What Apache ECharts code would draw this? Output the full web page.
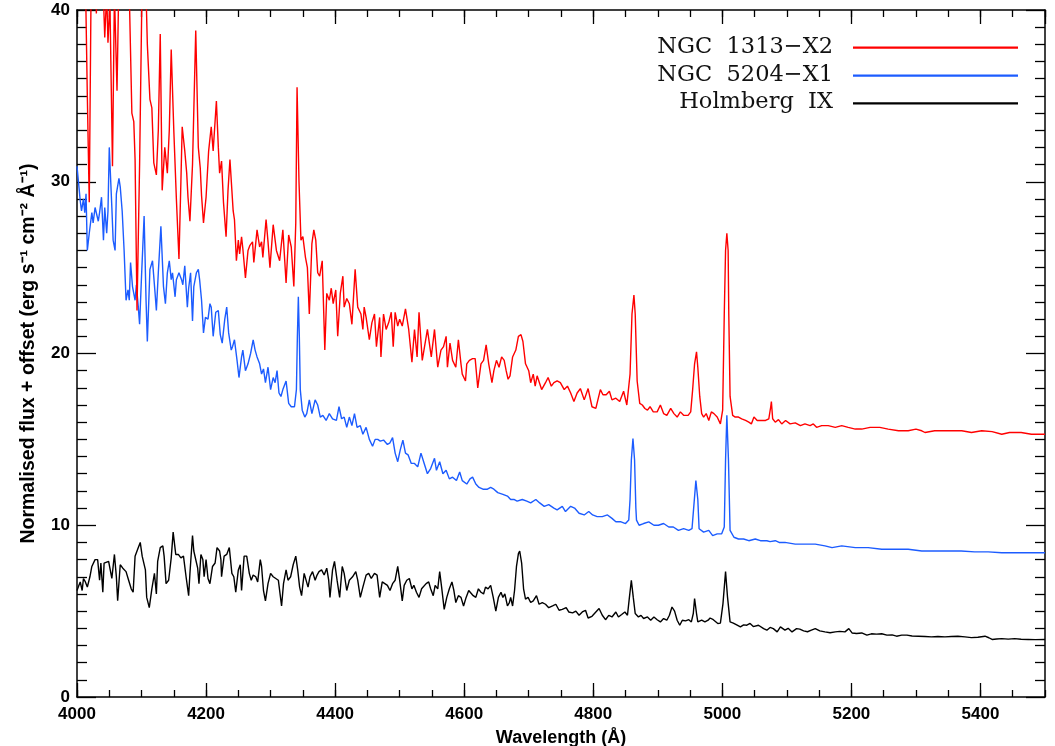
<!DOCTYPE html>
<html>
<head>
<meta charset="utf-8">
<title>Optical spectra</title>
<script src="https://cdn.jsdelivr.net/npm/echarts@6/dist/echarts.min.js"></script>
<style>
  html, body { margin: 0; padding: 0; background: #ffffff; }
  #chart { width: 1055px; height: 746px; }
</style>
</head>
<body>
<div id="chart"></div>
<script>
// Spectra as [wavelength (Å), normalised flux + offset]
const ngc1313x2 = [
  [4000,46],[4008,45],[4013,42],[4016,35],[4019,28.8],[4022,42],[4026,45],[4030,39.8],[4033,44],[4039,43],
  [4043,38.4],[4046,41],[4048,38.1],[4051,40.5],[4055,30.9],[4058,41],[4062,35.3],[4065,42],[4070,45],[4076,44],
  [4081,41],[4085,34],[4088,33.5],[4090,31.3],[4093,22.5],[4097,31],[4101,42],[4105,44],[4109,38],[4113,34.8],
  [4116,34.3],[4119,31.1],[4123,30.4],[4126,33],[4129,38.6],[4132,29.5],[4136,32],[4140,30.5],[4143,33],[4146,37.7],
  [4150,33],[4154,29],[4158,25.5],[4161,30],[4163,33.2],[4167,31.8],[4170,30.5],[4172,29.1],[4175,27.7],[4179,31],
  [4184,38.8],[4188,32],[4191,30.8],[4193,29.2],[4196,27.6],[4200,29.1],[4204,31.8],[4208,33.2],[4211,31.8],[4216,34.7],
  [4219,32],[4221,30.5],[4224,31.2],[4227,28.8],[4231,26.8],[4234,29.5],[4237,31.3],[4242,28.3],[4244,27.8],[4247,25.4],
  [4250,26.6],[4252,25.8],[4255,26.8],[4257,26.1],[4261,24.4],[4265,26],[4268,26.3],[4272,26.5],[4274,25.3],[4279,27.2],
  [4283,26.2],[4286,26.5],[4288,25.6],[4293,27.8],[4296,26.5],[4299,25],[4304,27.5],[4309,26],[4314,25.4],[4319,27.2],
  [4324,24.1],[4328,26.9],[4332,26.2],[4336,23.9],[4339,27.6],[4341,35.5],[4344,30],[4347,26.6],[4350,26.8],[4354,25.6],
  [4357,25],[4360,22.3],[4364,26.4],[4367,27.2],[4370,26.6],[4373,24.7],[4376,24.5],[4380,25.4],[4384,20.2],[4387,23.5],
  [4391,23.1],[4394,23.8],[4397,22.9],[4401,23.7],[4404,21],[4408,23.5],[4412,24.5],[4414,22.7],[4418,23.2],[4422,22.9],
  [4426,21.7],[4431,24.9],[4435,22.7],[4440,22.3],[4443,21.4],[4445,22.7],[4448,22.1],[4453,20.8],[4457,21.8],[4461,22.3],
  [4464,20.4],[4469,22.1],[4471,19.8],[4475,22.3],[4479,21.4],[4483,21.8],[4487,22.4],[4490,20.4],[4493,22.4],[4497,21.6],
  [4500,22],[4504,21.6],[4509,22.6],[4514,21.4],[4519,19.5],[4523,21.4],[4527,19.8],[4530,22.4],[4535,19.6],[4538,19.7],
  [4543,21.4],[4549,19.8],[4554,21.4],[4559,19.2],[4564,20.2],[4568,20.4],[4572,21],[4574,19.2],[4578,20.6],[4582,19.6],
  [4587,19.2],[4591,20.8],[4595,19.4],[4597,18.8],[4602,18.4],[4604,19.4],[4608,19.6],[4613,19.7],[4617,19.7],[4621,18],
  [4626,19.4],[4630,19.6],[4634,20.5],[4638,19.4],[4643,18.3],[4646,19],[4650,19.6],[4654,19.2],[4658,19.8],[4662,19.6],
  [4665,19],[4668,18.5],[4671,18.7],[4675,19.8],[4680,20.2],[4684,21],[4688,21.1],[4691,20.7],[4695,19.4],[4700,19],
  [4703,18.3],[4707,18.8],[4710,18.1],[4713,18.7],[4716,18.6],[4720,17.9],[4726,18.3],[4730,18.6],[4735,18.1],[4739,18.3],
  [4744,18.4],[4749,18.3],[4755,17.9],[4760,18.1],[4765,17.7],[4770,17.2],[4775,17.7],[4780,17.96],[4786,17.3],[4792,17.96],
  [4798,16.9],[4804,16.8],[4811,17.9],[4815,17.6],[4820,17.6],[4825,17.8],[4829,17.3],[4835,17.4],[4841,17.2],[4847,17.8],
  [4852,17],[4857,18.8],[4860,22.3],[4863,23.4],[4865,22.3],[4868,18.4],[4872,17.1],[4876,17],[4880,16.8],[4884,16.7],
  [4888,16.9],[4893,16.6],[4899,16.6],[4904,17],[4909,16.5],[4914,16.4],[4920,16.8],[4925,16.5],[4930,16.3],[4935,16.6],
  [4940,16.4],[4947,16.4],[4951,16.6],[4954,17.9],[4957,19.4],[4960,20.1],[4962,19.2],[4965,17.5],[4968,16.5],[4971,16.3],
  [4975,16.5],[4979,16.1],[4983,16.6],[4987,16.5],[4992,16.3],[4997,15.9],[5000.5,16.7],[5003,22.3],[5005,26],[5007,27],
  [5009,26],[5010,22.3],[5012,17.5],[5016,16.4],[5020,16.3],[5025,16.3],[5030,16.2],[5036,16.1],[5041,16],[5045,15.9],
  [5049,16.3],[5054,16.1],[5059,16.1],[5067,16.1],[5072,16.2],[5075,16.9],[5076,17.2],[5078,16.2],[5082,16],[5087,16.15],
  [5092,15.9],[5098,16.1],[5105,15.9],[5113,15.96],[5121,15.8],[5128,15.9],[5136,15.8],[5141,15.9],[5146,15.7],[5154,15.8],
  [5164,15.8],[5175,15.7],[5185,15.8],[5195,15.7],[5206,15.6],[5216,15.6],[5229,15.7],[5244,15.7],[5257,15.6],[5273,15.5],
  [5288,15.5],[5300,15.6],[5309,15.5],[5314,15.4],[5329,15.5],[5350,15.5],[5371,15.5],[5386,15.4],[5402,15.5],[5418,15.45],
  [5433,15.3],[5445,15.4],[5463,15.4],[5479,15.3],[5500,15.3]
];

const ngc5204x1 = [
  [4000,30.9],[4003,29.7],[4005,28.9],[4007,28.3],[4010,29],[4012,28.2],[4014,29.3],[4016,26],[4019,27],[4023,28.2],
  [4025,27.6],[4028,28.5],[4031,28.5],[4033,27.7],[4035,28.2],[4038,29.1],[4041,26.6],[4043,28.5],[4046,27],[4048,28.3],
  [4050,32],[4054,28.5],[4056,26.6],[4059,26],[4061,29.3],[4065,30.2],[4067,29.7],[4070,28.3],[4073,26],[4076,23.1],
  [4079,23.7],[4081,23.1],[4083,25.3],[4086,23.9],[4090,23.1],[4092,24],[4095,22.7],[4097,21.7],[4100,24.5],[4104,28],
  [4107,23.1],[4109,20.7],[4113,24.9],[4117,25.4],[4121,23.5],[4123,22.5],[4126,24.7],[4130,27.4],[4134,23.9],[4137,22.9],
  [4140,24.7],[4143,25.4],[4146,24.3],[4148,24.7],[4152,23.3],[4154,24.3],[4158,24.7],[4162,24.3],[4164,24],[4167,25.1],
  [4171,22.7],[4173,23.8],[4176,24.7],[4179,21.9],[4181,23.9],[4185,24.7],[4188,24.9],[4190,24.3],[4193,23.1],[4196,21.2],
  [4199,22.1],[4203,22],[4206,22.9],[4208,22.7],[4211,21],[4215,22.4],[4219,22.5],[4222,21.1],[4225,20.6],[4229,22],
  [4232,22.7],[4235,21.2],[4239,20.2],[4241,20.4],[4244,20.8],[4248,19.6],[4251,18.6],[4255,19.8],[4257,20.2],[4261,19],
  [4265,19.4],[4269,20],[4273,20.8],[4276,20.2],[4279,19.8],[4283,19.4],[4286,18.8],[4289,19.1],[4292,18.3],[4296,19.2],
  [4300,17.9],[4304,18.6],[4307,18.3],[4310,19],[4313,17.7],[4316,17.5],[4319,17.9],[4324,18.4],[4328,17.1],[4332,16.9],
  [4337,16.9],[4340,17.9],[4341.5,21],[4343,23.3],[4344.5,21],[4346,17.9],[4349,16.7],[4353,16.3],[4356,16.5],[4360,17.3],
  [4364,16.5],[4369,17.3],[4373,17],[4377,16.3],[4381,16.4],[4386,16.1],[4391,16.5],[4396,16.2],[4402,16.1],[4406,16.9],
  [4410,16.2],[4414,16.3],[4418,15.7],[4422,16.3],[4426,15.8],[4430,16.5],[4434,15.7],[4439,15.8],[4443,15.3],[4448,15.7],
  [4453,15],[4458,14.6],[4462,15],[4466,15],[4470,14.9],[4475,14.96],[4481,14.7],[4485,14.8],[4489,15.1],[4493,14.2],
  [4497,13.7],[4501,14.4],[4505,14.96],[4509,14.2],[4513,14.1],[4518,13.6],[4523,13.6],[4528,13.4],[4533,14.2],[4538,13.6],
  [4543,13],[4548,13.3],[4554,13.9],[4557,13.2],[4562,13.7],[4567,13],[4572,13.2],[4577,12.7],[4582,12.8],[4588,12.6],
  [4593,13.1],[4597,12.6],[4604,12.4],[4609,12.7],[4613,12.8],[4618,12.4],[4623,12.2],[4629,12.1],[4636,12.1],[4641,12.2],
  [4646,12.1],[4652,11.9],[4660,11.8],[4667,11.7],[4672,11.5],[4677,11.5],[4682,11.4],[4690,11.5],[4697,11.4],[4703,11.3],
  [4711,11.5],[4717,11.3],[4724,11.1],[4731,11.2],[4739,11],[4744,10.9],[4752,11.1],[4757,10.8],[4765,11.1],[4771,11],
  [4778,10.7],[4786,10.6],[4793,10.8],[4799,10.6],[4806,10.5],[4814,10.5],[4822,10.6],[4829,10.4],[4835,10.2],[4843,10.2],
  [4850,10.1],[4855,10.3],[4857,11.5],[4859,13.8],[4861.5,15.05],[4864,13.8],[4866,11],[4867,10.3],[4871,10],[4878,10.1],
  [4886,10.2],[4894,10],[4901,10],[4909,10.1],[4917,9.9],[4924,9.9],[4932,9.7],[4940,9.8],[4948,9.7],[4953,9.8],
  [4956,11.2],[4959,12.6],[4962,11.5],[4964,9.8],[4971,9.6],[4979,9.7],[4985,9.4],[4992,9.5],[4999,9.5],[5003,9.9],
  [5005,13.8],[5007,16.4],[5009.5,13.8],[5012,9.7],[5018,9.3],[5025,9.2],[5033,9.2],[5041,9.1],[5051,9.2],[5059,9.1],
  [5069,9.1],[5074,9.05],[5082,9.1],[5088,9],[5097,9],[5113,8.9],[5128,8.9],[5144,8.9],[5159,8.8],[5170,8.7],
  [5185,8.8],[5206,8.7],[5226,8.7],[5247,8.6],[5268,8.6],[5288,8.6],[5309,8.5],[5330,8.5],[5350,8.5],[5370,8.5],
  [5391,8.45],[5412,8.45],[5433,8.4],[5453,8.4],[5474,8.4],[5500,8.4]
];

const holmbergIX = [
  [4000,6.2],[4003,6.5],[4005,6.7],[4008,6.2],[4010,6.9],[4013,6.7],[4016,6.4],[4020,7],[4023,7.6],[4026,7.5],
  [4028,8],[4032,8],[4035,6.8],[4037,7.8],[4040,6.1],[4042,7.8],[4045,7.9],[4049,7.9],[4052,7.8],[4054,6.9],
  [4058,8.3],[4061,7],[4063,5.6],[4067,7.7],[4071,7.5],[4076,7.3],[4080,6.8],[4084,6.3],[4087,6.1],[4090,8.2],
  [4094,8.6],[4098,9],[4101,8.2],[4103,8.1],[4106,7.4],[4108,5.8],[4112,5.2],[4116,6.3],[4120,7.2],[4123,6],
  [4125,7.9],[4129,8.7],[4133,8.8],[4135,8.2],[4138,6.6],[4142,6.8],[4146,8.1],[4149,9.6],[4153,8.3],[4157,8.3],
  [4161,8.1],[4165,8.2],[4169,7],[4173,5.9],[4175,7.2],[4179,9.4],[4181,8.5],[4184,8.4],[4187,7.5],[4189,6.6],
  [4192,8.3],[4195,8],[4197,7],[4200,8],[4203,6.9],[4206,6.6],[4210,7.6],[4214,7.8],[4217,8.7],[4221,8.5],
  [4223,8],[4224,7],[4228,8.2],[4232,8.3],[4236,8.7],[4240,7.2],[4243,7],[4246,6.1],[4250,7.4],[4253,7.7],
  [4255,6.2],[4259,8.2],[4263,8.2],[4267,7.2],[4270,6.8],[4273,7.1],[4277,7],[4280,6.7],[4284,8],[4286,7.6],
  [4289,6.2],[4292,5.6],[4296,6.6],[4300,7.2],[4304,7],[4308,6.9],[4312,6.8],[4317,5.3],[4320,6.6],[4324,7.4],
  [4327,6.8],[4331,7],[4335,7.7],[4339,8.2],[4342,7.4],[4345,6.4],[4348,5.9],[4352,7.2],[4355,7.1],[4358,6.4],
  [4361,7],[4365,7.3],[4369,6.8],[4372,7.1],[4375,7.3],[4379,7.4],[4383,7.1],[4387,7.5],[4390,6.8],[4392,5.8],
  [4396,7.4],[4399,7.9],[4403,6.8],[4407,5.8],[4411,7.6],[4414,7.2],[4418,6.2],[4422,6.8],[4427,7],[4432,7.3],
  [4435,6.8],[4439,5.8],[4443,6.4],[4448,7.1],[4452,7.2],[4456,6.9],[4461,7.2],[4465,7.1],[4469,5.8],[4473,6.7],
  [4477,6.6],[4481,6.5],[4485,6.2],[4489,6.6],[4493,6.8],[4497,7.6],[4500,6.8],[4504,5.6],[4507,6.5],[4511,6.8],
  [4515,6.9],[4519,6.3],[4522,6.5],[4526,6.1],[4530,5.8],[4534,6.3],[4541,6.6],[4545,6.7],[4548,6.3],[4552,5.9],
  [4555,6.5],[4559,6.3],[4562,7.3],[4565,6.4],[4569,5.1],[4573,5.8],[4577,6.3],[4581,6.7],[4584,6.2],[4587,5.5],
  [4591,5.9],[4595,5.8],[4599,5.3],[4603,5.8],[4607,6.2],[4610,6.1],[4614,5.9],[4618,5.8],[4622,6.3],[4626,6.1],
  [4630,6],[4633,6.4],[4637,6.3],[4641,6.5],[4645,5.8],[4649,5],[4653,5.8],[4657,6.1],[4660,5.8],[4663,6],
  [4667,5.3],[4670,5.5],[4672,5.8],[4675,5.3],[4678,6.2],[4681,7.6],[4684,8.35],[4686,8.5],[4689,7.8],[4692,6.3],
  [4695,5.7],[4699,5.8],[4703,5.5],[4707,5.6],[4712,5.9],[4716,5.4],[4721,5.5],[4726,5.4],[4731,5.2],[4737,5.3],
  [4742,5.4],[4747,5.05],[4752,5.1],[4758,5.2],[4762,4.95],[4768,4.9],[4773,5],[4778,4.76],[4783,4.95],[4788,5.05],
  [4792,4.6],[4798,4.7],[4804,4.95],[4809,5.15],[4814,4.76],[4819,4.5],[4824,4.75],[4829,4.66],[4835,4.95],[4839,4.66],
  [4844,4.8],[4849,4.95],[4853,4.76],[4856,5.8],[4859,6.8],[4862,5.8],[4865,4.86],[4870,4.66],[4874,4.75],[4878,4.57],
  [4884,4.66],[4889,4.47],[4894,4.66],[4899,4.5],[4904,4.37],[4909,4.57],[4914,4.47],[4918,4.76],[4922,5.24],[4926,5],
  [4930,4.47],[4934,4.18],[4938,4.47],[4943,4.43],[4948,4.5],[4952,4.37],[4955,4.86],[4957,5.73],[4960,4.86],[4962,4.37],
  [4968,4.47],[4973,4.37],[4978,4.47],[4981,4.6],[4986,4.5],[4993,4.28],[4997,4.3],[5001,5.44],[5005,7.3],[5008,5.83],
  [5012,4.37],[5017,4.3],[5023,4.18],[5028,4.08],[5033,4.2],[5038,4.18],[5043,4.28],[5048,4.1],[5051,4.08],[5056,4.18],
  [5064,3.98],[5069,3.89],[5074,4.05],[5079,3.98],[5085,3.79],[5090,4.08],[5097,3.89],[5102,4],[5108,3.79],[5115,3.98],
  [5120,3.95],[5126,3.85],[5132,3.8],[5138,3.89],[5144,3.98],[5151,3.85],[5159,3.79],[5167,3.74],[5175,3.79],[5182,3.82],
  [5190,3.79],[5196,3.98],[5201,3.73],[5208,3.7],[5216,3.73],[5224,3.6],[5231,3.68],[5239,3.66],[5247,3.68],[5255,3.6],
  [5263,3.62],[5270,3.54],[5278,3.6],[5286,3.6],[5294,3.55],[5304,3.54],[5314,3.52],[5324,3.5],[5334,3.52],[5345,3.5],
  [5355,3.52],[5365,3.54],[5376,3.5],[5386,3.46],[5396,3.48],[5407,3.54],[5413,3.45],[5418,3.35],[5425,3.38],[5433,3.4],
  [5443,3.37],[5453,3.4],[5463,3.36],[5474,3.35],[5485,3.34],[5500,3.35]
];

const seriesNames = ['NGC 1313\u2212X2', 'NGC 5204\u2212X1', 'Holmberg IX'];
const seriesColors = ['#ff0000', '#1c5cff', '#000000'];
const spectra = [ngc1313x2, ngc5204x1, holmbergIX];

const xRange = [4000, 5500];
const yRange = [0, 40];

const chart = echarts.init(document.getElementById('chart'), null, { renderer: 'canvas' });

const tickFont = { fontFamily: 'Liberation Sans', fontWeight: 'bold', fontSize: 17, color: '#000' };
const frameLine = { show: true, lineStyle: { color: '#000', width: 1.5 } };
const plainNumber = (v) => String(v);

function xAxisDef(position, interval, tickLen, withLine, withLabels) {
  return {
    type: 'value', position, min: xRange[0], max: xRange[1], interval,
    axisLine: withLine ? frameLine : { show: false },
    axisTick: { show: true, inside: true, length: tickLen, lineStyle: { color: '#000', width: 1.3 } },
    axisLabel: withLabels
      ? Object.assign({ show: true, margin: 9, showMaxLabel: false, formatter: plainNumber }, tickFont)
      : { show: false },
    splitLine: { show: false }
  };
}

function yAxisDef(position, withLabels) {
  return {
    type: 'value', position, min: yRange[0], max: yRange[1], interval: 10,
    axisLine: frameLine,
    axisTick: { show: true, inside: true, length: 19, lineStyle: { color: '#000', width: 1.3 } },
    minorTick: { show: true, splitNumber: 10, length: 10, lineStyle: { color: '#000', width: 1.3 } },
    axisLabel: withLabels
      ? Object.assign({ show: true, margin: 7, formatter: plainNumber }, tickFont)
      : { show: false },
    splitLine: { show: false },
    minorSplitLine: { show: false }
  };
}

const xBottom = xAxisDef('bottom', 200, 14, true, true);
xBottom.name = 'Wavelength (\u00c5)';
xBottom.nameLocation = 'middle';
xBottom.nameGap = 32;
xBottom.nameTextStyle = { fontFamily: 'Liberation Sans', fontWeight: 'bold', fontSize: 18, color: '#000' };

const yLeft = yAxisDef('left', true);
yLeft.name = 'Normalised flux + offset (erg s\u207b\u00b9 cm\u207b\u00b2 \u00c5\u207b\u00b9)';
yLeft.nameLocation = 'middle';
yLeft.nameGap = 38;
yLeft.nameTextStyle = { fontFamily: 'Liberation Sans', fontWeight: 'bold', fontSize: 19.5, color: '#000' };

// Legend drawn as text + line samples at the upper right
const legendRows = [47.7, 75.7, 103.3];
const legendGraphics = [];
seriesNames.forEach((name, i) => {
  legendGraphics.push({
    type: 'text', x: 833, y: legendRows[i] - 1,
    style: { text: name.replace(' ', '  '), align: 'right', verticalAlign: 'middle',
             font: 'normal 22.5px "DejaVu Serif"', fill: '#111' }
  });
  legendGraphics.push({
    type: 'line', shape: { x1: 853, y1: legendRows[i], x2: 1018, y2: legendRows[i] },
    style: { stroke: seriesColors[i], lineWidth: 2.2 }
  });
});

chart.setOption({
  animation: false,
  backgroundColor: '#ffffff',
  grid: { left: 77, right: 10, top: 10, bottom: 49, containLabel: false, outerBoundsMode: 'none' },
  xAxis: [
    xBottom,
    xAxisDef('bottom', 50, 7, false, false),
    xAxisDef('top', 200, 14, true, false),
    xAxisDef('top', 50, 7, false, false)
  ],
  yAxis: [ yLeft, yAxisDef('right', false) ],
  graphic: legendGraphics,
  series: spectra.map((data, i) => ({
    name: seriesNames[i],
    type: 'line',
    xAxisIndex: 0,
    yAxisIndex: 0,
    data,
    showSymbol: false,
    symbol: 'none',
    clip: true,
    lineStyle: { color: seriesColors[i], width: 1.4 },
    emphasis: { disabled: true },
    z: 3 - i
  }))
});
</script>
</body>
</html>
